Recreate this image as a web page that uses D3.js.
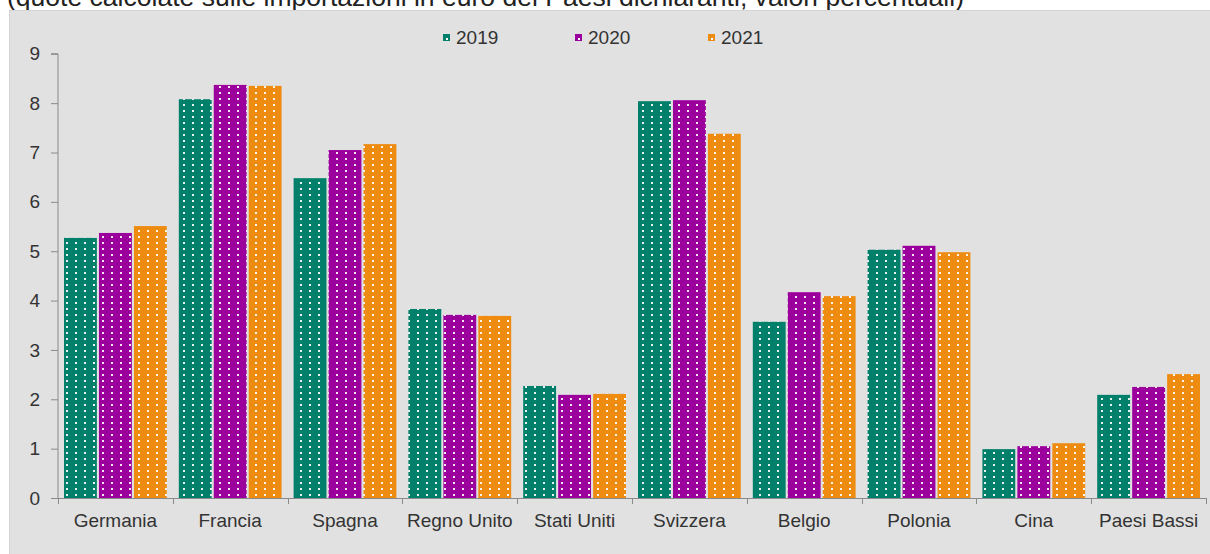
<!DOCTYPE html>
<html><head><meta charset="utf-8">
<script src="https://cdn.jsdelivr.net/npm/d3@7"></script>
<style>body{margin:0;background:#fff}svg{display:block}text{font-family:"Liberation Sans",Arial,sans-serif}</style>
</head><body>
<svg id="c" width="1210" height="554"></svg>
<script>
const categories = ["Germania","Francia","Spagna","Regno Unito","Stati Uniti","Svizzera","Belgio","Polonia","Cina","Paesi Bassi"];
const seriesNames = ["2019","2020","2021"];
const values2019 = [5.27,8.08,6.48,3.83,2.27,8.04,3.57,5.03,0.99,2.09];
const values2020 = [5.37,8.37,7.05,3.71,2.09,8.06,4.17,5.11,1.05,2.25];
const values2021 = [5.51,8.35,7.17,3.69,2.11,7.38,4.09,4.98,1.11,2.51];
const yTicks = [0,1,2,3,4,5,6,7,8,9];
const colors = ["#00806a","#9c009c","#ee8c12"];
const title = "(quote calcolate sulle importazioni in euro dei Paesi dichiaranti; valori percentuali)";

(function(){
const seriesValues = [values2019, values2020, values2021];
const svg = d3.select("#c");

svg.append("text").attr("x",7).attr("y",6).attr("font-size",25).attr("fill","#222")
  .attr("textLength",957).attr("lengthAdjust","spacingAndGlyphs").text(title);
svg.append("rect").attr("x",9).attr("y",10).attr("width",1201).attr("height",544).attr("fill","#e1e1e1");
svg.append("line").attr("x1",9).attr("x2",1210).attr("y1",10.5).attr("y2",10.5).attr("stroke","#d4d4d4");
svg.append("line").attr("x1",9.5).attr("x2",9.5).attr("y1",10).attr("y2",554).attr("stroke","#d4d4d4");

const defs = svg.append("defs");
colors.forEach((c,i)=>{
  const p = defs.append("pattern").attr("id","pat"+i).attr("patternUnits","userSpaceOnUse")
    .attr("width",9).attr("height",6);
  p.append("rect").attr("width",9).attr("height",6).attr("fill",c);
  p.append("rect").attr("x",3).attr("y",2).attr("width",2).attr("height",2).attr("fill","#fff").attr("opacity",0.9);
});

const pLeft = 58, pRight = 1206, pTop = 53.8, pBottom = 498;
const x0 = d3.scaleBand().domain(categories).range([pLeft,pRight]).padding(0);
const x1 = d3.scaleBand().domain(seriesNames).range([6, x0.bandwidth()-6]).paddingInner(0.06);
const y = d3.scaleLinear().domain([0,9]).range([pBottom, pTop]);

const g = svg.append("g");
categories.forEach((cat,ci)=>{
  seriesNames.forEach((s,si)=>{
    const v = seriesValues[si][ci];
    g.append("rect").attr("x",x0(cat)+x1(s)).attr("y",y(v))
      .attr("width",x1.bandwidth()).attr("height",pBottom-y(v))
      .attr("fill","url(#pat"+si+")");
  });
});

const ya = svg.append("g").attr("transform",`translate(${pLeft},0)`)
  .call(d3.axisLeft(y).tickValues(yTicks).tickSize(7).tickPadding(11).tickFormat(d3.format("d")));
ya.select(".domain").attr("stroke","#8a8a8a").attr("d",`M-7,${pTop}H0V${pBottom}`);
ya.selectAll(".tick line").attr("stroke","#8a8a8a");
ya.selectAll("text").attr("font-size",19).attr("fill","#333").attr("font-family","Liberation Sans, Arial, sans-serif");

const xa = svg.append("g");
xa.append("line").attr("x1",pLeft).attr("x2",pRight).attr("y1",pBottom+0.5).attr("y2",pBottom+0.5).attr("stroke","#8a8a8a");
const bounds = categories.map(c=>x0(c)).concat([pRight]);
xa.selectAll("line.t").data(bounds).join("line").attr("class","t")
  .attr("x1",d=>Math.round(d)+0.5).attr("x2",d=>Math.round(d)+0.5).attr("y1",pBottom).attr("y2",pBottom+6).attr("stroke","#8a8a8a");
xa.selectAll("text").data(categories).join("text")
  .attr("x",d=>x0(d)+x0.bandwidth()/2).attr("y",527).attr("text-anchor","middle")
  .attr("font-size",19).attr("fill","#333").text(d=>d);

const legX = [443,575,708];
const leg = svg.append("g");
seriesNames.forEach((s,i)=>{
  leg.append("rect").attr("x",legX[i]).attr("y",34).attr("width",7).attr("height",7).attr("fill",colors[i]);
  leg.append("rect").attr("x",legX[i]+3).attr("y",38).attr("width",2).attr("height",2).attr("fill","#fff");
  leg.append("text").attr("x",legX[i]+13).attr("y",44).attr("font-size",19).attr("fill","#333").text(s);
});
})();
</script>
</body></html>
